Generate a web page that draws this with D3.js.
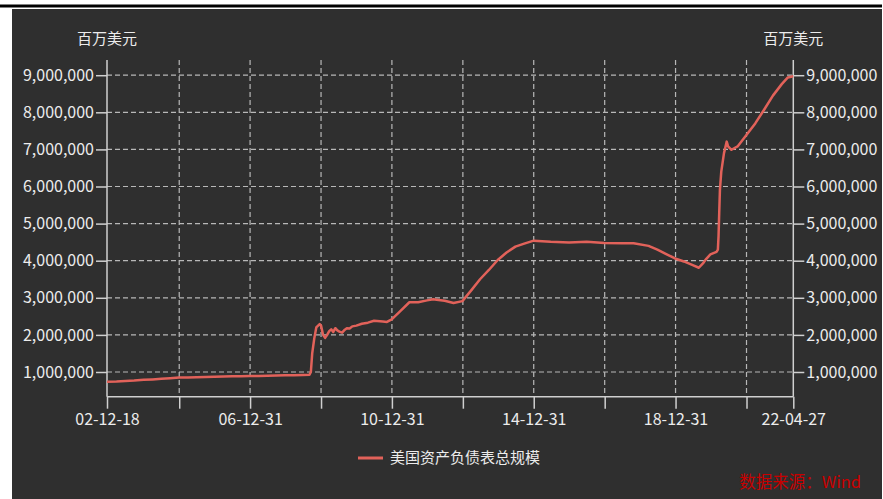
<!DOCTYPE html>
<html><head><meta charset="utf-8">
<script src="https://cdn.jsdelivr.net/npm/d3@7"></script>
<style>
html,body{margin:0;padding:0;background:#fff;}
svg{display:block;}
text{font-family:"Noto Sans CJK SC","Noto Sans",sans-serif;}
</style></head>
<body>
<svg id="c" width="883" height="499"></svg>
<script>
const seriesName = "美国资产负债表总规模";
const unitLabel = "百万美元";
const sourceLabel = "数据来源：Wind";
const dates = ["2002-12-18","2003-03-26","2003-06-25","2003-09-24","2003-12-31","2004-03-31","2004-06-30","2004-09-29","2004-12-29",
"2005-03-30","2005-06-29","2005-09-28","2005-12-28","2006-03-29","2006-06-28","2006-09-27","2006-12-27","2007-03-28","2007-06-27",
"2007-09-26","2007-12-26","2008-03-26","2008-06-25","2008-09-03","2008-09-17","2008-10-01","2008-10-22","2008-11-12","2008-12-17",
"2008-12-31","2009-01-21","2009-02-11","2009-03-04","2009-03-25","2009-04-15","2009-05-06","2009-05-27","2009-06-17","2009-07-08",
"2009-08-05","2009-09-02","2009-09-23","2009-10-21","2009-11-18","2009-12-30","2010-02-24","2010-04-28","2010-06-30","2010-09-29",
"2010-11-10","2010-12-29","2011-03-30","2011-06-29","2011-09-28","2011-12-28","2012-02-29","2012-04-25","2012-06-27","2012-09-26",
"2012-12-26","2013-03-27","2013-06-26","2013-09-25","2013-12-25","2014-03-26","2014-06-25","2014-09-24","2014-12-31","2015-06-24",
"2015-12-30","2016-06-29","2016-12-28","2017-06-28","2017-10-25","2018-03-28","2018-06-27","2018-09-26","2018-12-26","2019-03-27",
"2019-06-26","2019-08-28","2019-10-16","2019-11-13","2019-12-25","2020-02-26","2020-03-11","2020-03-18","2020-03-25","2020-04-01",
"2020-04-15","2020-05-13","2020-06-10","2020-06-24","2020-07-29","2020-09-30","2020-12-30","2021-03-31","2021-06-30","2021-09-29",
"2021-12-29","2022-03-02","2022-04-27"];
const values = [740000,745000,760000,770000,790000,800000,815000,830000,850000,
852000,858000,866000,872000,876000,882000,886000,890000,893000,900000,
905000,910000,915000,920000,925000,1000000,1500000,1900000,2200000,2290000,
2250000,2000000,1920000,2000000,2100000,2150000,2080000,2180000,2120000,2090000,
2060000,2140000,2180000,2170000,2230000,2250000,2300000,2330000,2380000,2360000,
2350000,2420000,2650000,2880000,2880000,2930000,2960000,2940000,2920000,2860000,
2910000,3200000,3500000,3750000,4020000,4220000,4380000,4460000,4540000,4510000,
4490000,4510000,4480000,4470000,4470000,4400000,4300000,4180000,4060000,3980000,
3880000,3810000,3950000,4050000,4170000,4240000,4300000,4670000,5300000,5900000,
6400000,6900000,7210000,7080000,6990000,7080000,7390000,7700000,8070000,8450000,
8760000,8940000,8970000];
const xTickDates = ["2002-12-18","2004-12-31","2006-12-31","2008-12-31","2010-12-31","2012-12-31","2014-12-31","2016-12-31","2018-12-31","2020-12-31","2022-04-27"];
const xTickLabels = ["02-12-18","","06-12-31","","10-12-31","","14-12-31","","18-12-31","","22-04-27"];
const yTicks = [1000000,2000000,3000000,4000000,5000000,6000000,7000000,8000000,9000000];

const parse = d3.timeParse("%Y-%m-%d");
const data = dates.map((d,i)=>({t:parse(d), v:values[i]}));
const svg = d3.select("#c");

// frame
svg.append("rect").attr("x",0).attr("y",0).attr("width",883).attr("height",499).attr("fill","#fff");
svg.append("rect").attr("x",0).attr("y",4.5).attr("width",882).attr("height",3).attr("fill","#000");
svg.append("rect").attr("x",12).attr("y",9).attr("width",870).attr("height",490).attr("fill","#2f2f2f");

const L=107, R=793.3, T=60, B=396.7;
const x = d3.scaleTime().domain([parse("2002-12-18"), parse("2022-04-27")]).range([L,R]);
const y = d3.scaleLinear().domain([334000, 9410000]).range([B,T]);

const gridCol = "#b8b8b8", axisCol="#d0d0d0", txtCol="#ececec";
// horizontal gridlines
svg.append("g").selectAll("line").data(yTicks).join("line")
  .attr("x1",L).attr("x2",R).attr("y1",d=>y(d)).attr("y2",d=>y(d))
  .attr("stroke",gridCol).attr("stroke-width",1.2).attr("stroke-dasharray","5,3");
// vertical gridlines
svg.append("g").selectAll("line").data(xTickDates.slice(1,-1)).join("line")
  .attr("x1",d=>x(parse(d))).attr("x2",d=>x(parse(d))).attr("y1",T).attr("y2",B)
  .attr("stroke",gridCol).attr("stroke-width",1.2).attr("stroke-dasharray","5,3");

// axes
const fmt = d3.format(",");
const yl = svg.append("g").attr("transform",`translate(${L},0)`)
  .call(d3.axisLeft(y).tickValues(yTicks).tickFormat(fmt).tickSize(11).tickPadding(2));
const yr = svg.append("g").attr("transform",`translate(${R},0)`)
  .call(d3.axisRight(y).tickValues(yTicks).tickFormat(fmt).tickSize(11).tickPadding(2));
const xa = svg.append("g").attr("transform",`translate(0,${B})`)
  .call(d3.axisBottom(x).tickValues(xTickDates.map(parse)).tickFormat((d,i)=>xTickLabels[i]).tickSize(12).tickPadding(5));
[yl,yr,xa].forEach(g=>{
  g.select(".domain").remove();
  g.selectAll(".tick line").attr("stroke",axisCol).attr("stroke-width",1.5);
  g.selectAll("text").attr("fill",txtCol).attr("font-size",16).attr("font-family",'"Noto Sans CJK SC",sans-serif');
});
svg.append("line").attr("x1",L).attr("x2",L).attr("y1",T).attr("y2",B).attr("stroke",axisCol).attr("stroke-width",1.5);
svg.append("line").attr("x1",R).attr("x2",R).attr("y1",T).attr("y2",B).attr("stroke",axisCol).attr("stroke-width",1.5);
svg.append("line").attr("x1",L).attr("x2",R).attr("y1",B).attr("y2",B).attr("stroke",axisCol).attr("stroke-width",1.5);

// unit labels
svg.append("text").attr("x",L).attr("y",44).attr("text-anchor","middle").attr("fill",txtCol).attr("font-size",15).text(unitLabel);
svg.append("text").attr("x",R).attr("y",44).attr("text-anchor","middle").attr("fill",txtCol).attr("font-size",15).text(unitLabel);

// series
const lineCol = "#e2625a";
svg.append("path").datum(data).attr("fill","none").attr("stroke",lineCol).attr("stroke-width",2.5)
  .attr("stroke-linejoin","round")
  .attr("d", d3.line().x(d=>x(d.t)).y(d=>y(d.v)));

// legend
svg.append("line").attr("x1",358).attr("x2",383).attr("y1",458).attr("y2",458).attr("stroke",lineCol).attr("stroke-width",3);
svg.append("text").attr("x",390).attr("y",458).attr("dy","0.35em").attr("fill",txtCol).attr("font-size",15).text(seriesName);

// source
svg.append("text").attr("x",861).attr("y",482).attr("dy","0.35em").attr("text-anchor","end").attr("fill","#c80000").attr("font-size",16.5).text(sourceLabel);
</script>
</body></html>
